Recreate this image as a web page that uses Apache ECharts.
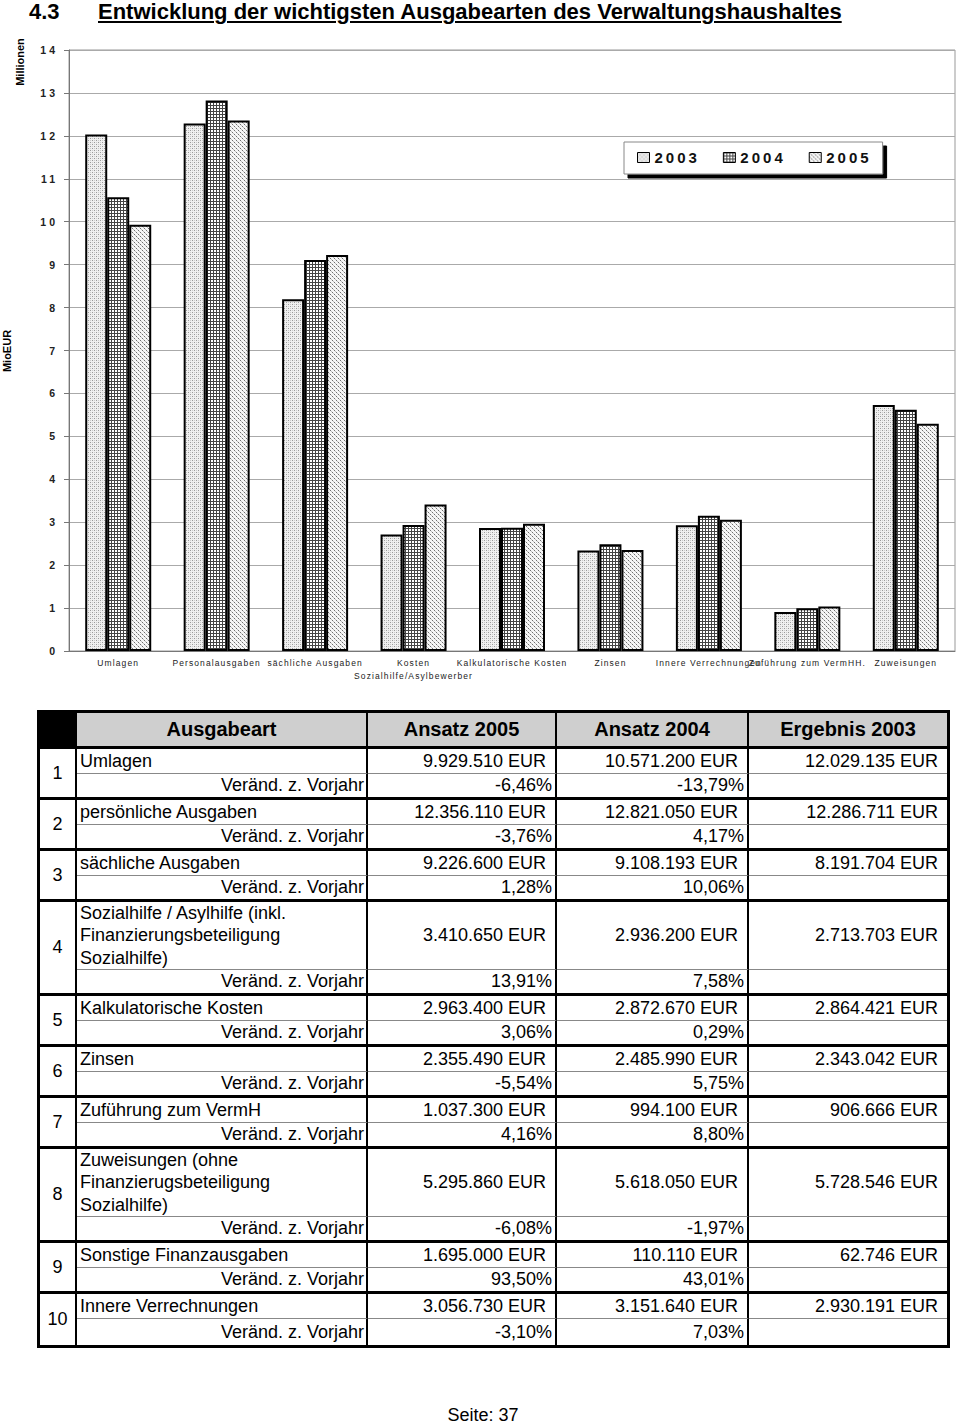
<!DOCTYPE html>
<html><head><meta charset="utf-8">
<script src="https://cdn.jsdelivr.net/npm/echarts@6/dist/echarts.min.js"></script>
<style>
html,body{margin:0;padding:0;background:#fff;}
body{width:960px;height:1425px;position:relative;overflow:hidden;font-family:"Liberation Sans",Arial,sans-serif;color:#000;}
#title{position:absolute;top:-1px;left:0;width:960px;height:26px;font-weight:bold;font-size:22px;line-height:26px;z-index:2;}
#title .num{position:absolute;left:29px;}
#title .txt{position:absolute;left:98px;text-decoration:underline;text-decoration-thickness:2px;text-underline-offset:2px;}
#chart{position:absolute;left:0;top:0;width:960px;height:700px;}
#tbl{position:absolute;left:37px;top:710px;width:907px;border:3px solid #000;display:grid;grid-template-columns:37px 291px 189px 192px 198px;}
.c{box-sizing:border-box;border-right:2px solid #000;display:flex;align-items:center;font-size:18px;white-space:nowrap;overflow:hidden;}
.c.last{border-right:none;}
.h{background:#cfcfcf;font-weight:bold;font-size:20px;justify-content:center;border-bottom:3px solid #000;}
.h.blk{background:#000;}
.n{justify-content:center;border-bottom:3px solid #000;}
.r1{border-bottom:1px solid #888;}
.r2{border-bottom:3px solid #000;}
.nb{border-bottom:none !important;}
.name{padding-left:3px;}
.multi{white-space:pre-line;line-height:22.5px;}
.lab{justify-content:flex-end;padding-right:2px;}
.eur{justify-content:flex-end;padding-right:9px;}
.pct{justify-content:flex-end;padding-right:3px;}
#footer{position:absolute;left:0;top:1406px;width:966px;text-align:center;font-size:18px;line-height:18px;}
</style></head>
<body>
<div id="chart"></div>
<div id="title"><span class="num">4.3</span><span class="txt">Entwicklung der wichtigsten Ausgabearten des Verwaltungshaushaltes</span></div>
<div id="tbl"></div>
<div id="footer">Seite: 37</div>
<script>
// ---- chart data (Mio EUR) ----
const categories = ['Umlagen','Personalausgaben','sächliche Ausgaben','Kosten\nSozialhilfe/Asylbewerber','Kalkulatorische Kosten','Zinsen','Innere Verrechnungen','Zuführung zum VermHH.','Zuweisungen'];
const seriesNames = ['2003','2004','2005'];
const v2003 = [12.029, 12.287, 8.192, 2.714, 2.864, 2.343, 2.930, 0.907, 5.729];
const v2004 = [10.571, 12.821, 9.108, 2.936, 2.873, 2.486, 3.152, 0.994, 5.618];
const v2005 = [9.930, 12.356, 9.227, 3.411, 2.963, 2.355, 3.057, 1.037, 5.296];
const yTicks = {min:0, max:14, interval:1};

// ---- table data ----
const tHeader = ['', 'Ausgabeart', 'Ansatz 2005', 'Ansatz 2004', 'Ergebnis 2003'];
const tNames = ['Umlagen','persönliche Ausgaben','sächliche Ausgaben','Sozialhilfe / Asylhilfe (inkl.\nFinanzierungsbeteiligung\nSozialhilfe)','Kalkulatorische Kosten','Zinsen','Zuführung zum VermH','Zuweisungen (ohne\nFinanzierugsbeteiligung\nSozialhilfe)','Sonstige Finanzausgaben','Innere Verrechnungen'];
const tA2005 = ['9.929.510 EUR','12.356.110 EUR','9.226.600 EUR','3.410.650 EUR','2.963.400 EUR','2.355.490 EUR','1.037.300 EUR','5.295.860 EUR','1.695.000 EUR','3.056.730 EUR'];
const tA2004 = ['10.571.200 EUR','12.821.050 EUR','9.108.193 EUR','2.936.200 EUR','2.872.670 EUR','2.485.990 EUR','994.100 EUR','5.618.050 EUR','110.110 EUR','3.151.640 EUR'];
const tE2003 = ['12.029.135 EUR','12.286.711 EUR','8.191.704 EUR','2.713.703 EUR','2.864.421 EUR','2.343.042 EUR','906.666 EUR','5.728.546 EUR','62.746 EUR','2.930.191 EUR'];
const tChg2005 = ['-6,46%','-3,76%','1,28%','13,91%','3,06%','-5,54%','4,16%','-6,08%','93,50%','-3,10%'];
const tChg2004 = ['-13,79%','4,17%','10,06%','7,58%','0,29%','5,75%','8,80%','-1,97%','43,01%','7,03%'];
const chgLabel = 'Veränd. z. Vorjahr';

// ---- build table ----
(function(){
  const tbl = document.getElementById('tbl');
  const rowsH = ['36px'];
  function cell(cls, text){ const d=document.createElement('div'); d.className='c '+cls; d.textContent=text; tbl.appendChild(d); return d; }
  tHeader.forEach((h,i)=>cell('h'+(i===0?' blk':'')+(i===4?' last':''), h));
  tNames.forEach((n,i)=>{
    const multi = n.indexOf('\n')>=0;
    const lastG = i===tNames.length-1;
    rowsH.push(multi?'68px':'25px','26px');
    const num = cell('n'+(lastG?' nb':''), String(i+1)); num.style.gridRow='span 2';
    cell('r1 name'+(multi?' multi':''), n);
    cell('r1 eur', tA2005[i]);
    cell('r1 eur', tA2004[i]);
    cell('r1 eur last', tE2003[i]);
    cell('r2 lab'+(lastG?' nb':''), chgLabel);
    cell('r2 pct'+(lastG?' nb':''), tChg2005[i]);
    cell('r2 pct'+(lastG?' nb':''), tChg2004[i]);
    cell('r2 last'+(lastG?' nb':''), '');
  });
  tbl.style.gridTemplateRows = rowsH.join(' ');
})();

// ---- patterns ----
function makePattern(size, bg, pts){
  const c=document.createElement('canvas'); c.width=size; c.height=size;
  const ctx=c.getContext('2d'); ctx.fillStyle=bg; ctx.fillRect(0,0,size,size);
  pts.forEach(p=>{ctx.fillStyle=p[2]; ctx.fillRect(p[0],p[1],1,1);});
  return {image:c, repeat:'repeat'};
}
const pat2003 = makePattern(4,'#f0f0f0',[[0,0,'#9a9a9a'],[2,2,'#9a9a9a'],[2,0,'#cccccc'],[0,2,'#cccccc']]);
const pat2004 = makePattern(3,'#ffffff',[[0,0,'#444'],[1,0,'#444'],[2,0,'#444'],[0,1,'#444'],[0,2,'#444']]);
const pat2005 = makePattern(4,'#f6f6f6',[[0,0,'#707070'],[2,2,'#707070'],[1,1,'#c0c0c0'],[3,3,'#c0c0c0']]);
const patterns = [pat2003, pat2004, pat2005];
const values = [v2003, v2004, v2005];

const chart = echarts.init(document.getElementById('chart'), null, {renderer:'svg'});
chart.setOption({
  animation:false,
  textStyle:{fontFamily:'"Liberation Sans", Arial, sans-serif'},
  grid:{left:69, top:50, width:886, height:601, show:true, borderColor:'#999', borderWidth:1},
  legend:{
    data:seriesNames, left:624, top:142, icon:'rect', itemWidth:12, itemHeight:10, itemGap:35,
    padding:[8,23,9,13], backgroundColor:'#fff', borderColor:'#888', borderWidth:1,
    shadowColor:'#000', shadowBlur:0, shadowOffsetX:4, shadowOffsetY:4,
    textStyle:{fontSize:15, fontWeight:'bold', color:'#111'},
    itemStyle:{borderColor:'#000', borderWidth:1}, selectedMode:false
  },
  xAxis:{
    type:'category', data:categories,
    axisLine:{lineStyle:{color:'#777'}},
    axisTick:{length:5, lineStyle:{color:'#777'}},
    axisLabel:{interval:0, fontSize:8.5, color:'#222', margin:5, lineHeight:13}
  },
  yAxis:{
    type:'value', min:yTicks.min, max:yTicks.max, interval:yTicks.interval,
    axisLine:{show:true, lineStyle:{color:'#777'}},
    axisTick:{show:true, length:5, lineStyle:{color:'#777'}},
    splitLine:{lineStyle:{color:'#aaa'}},
    axisLabel:{fontSize:10.5, fontWeight:'bold', color:'#222', margin:11}
  },
  graphic:[
    {type:'text', x:20, y:62, rotation:Math.PI/2, style:{text:'Millionen', fontSize:11, fontWeight:'bold', fill:'#000', align:'center', verticalAlign:'middle'}},
    {type:'text', x:7, y:351, rotation:Math.PI/2, style:{text:'MioEUR', fontSize:11, fontWeight:'bold', fill:'#000', align:'center', verticalAlign:'middle'}}
  ],
  series: seriesNames.map((n,i)=>({
    name:n, type:'bar', data:values[i], barWidth:22, barGap:'0%',
    itemStyle:{color:patterns[i], borderColor:'#000', borderWidth:2}
  }))
});

function applySpacing(){
  document.querySelectorAll('#chart svg text').forEach(t=>{
    const fs = parseFloat(getComputedStyle(t).fontSize);
    let ls = 0;
    if (Math.abs(fs-8.5)<0.2) ls = 1.1;
    else if (Math.abs(fs-10.5)<0.2) ls = 3;
    else if (Math.abs(fs-15)<0.2) ls = 3;
    t.style.letterSpacing = ls+'px';
  });
}
applySpacing();
chart.on('finished', applySpacing);
setTimeout(applySpacing, 50);
</script>
</body></html>
